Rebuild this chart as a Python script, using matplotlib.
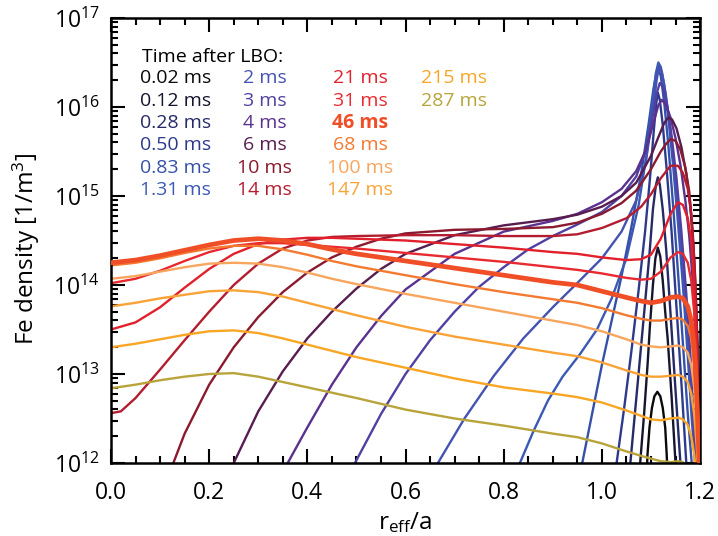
import numpy as np
import matplotlib.pyplot as plt
from matplotlib.ticker import MultipleLocator, LogLocator, NullFormatter

plt.rcParams['font.family'] = ['Open Sans', 'DejaVu Sans']
plt.rcParams['mathtext.fontset'] = 'custom'
plt.rcParams['mathtext.rm'] = 'Open Sans'
plt.rcParams['mathtext.it'] = 'Open Sans:italic'
plt.rcParams['mathtext.bf'] = 'Open Sans:bold'

# Fe density profiles, log10(n [1/m^3]) against r_eff/a, after the laser blow-off

# early profiles: narrow edge peak spreading inwards
r_0p02 = [1.090, 1.093, 1.097, 1.102, 1.107, 1.113, 1.119, 1.124, 1.129, 1.132, 1.135]
n_0p02 = [11.7, 12.1, 12.4, 12.62, 12.75, 12.80, 12.75, 12.62, 12.4, 12.1, 11.7]

r_0p12 = [1.070, 1.078, 1.086, 1.093, 1.098, 1.104, 1.109, 1.114, 1.119, 1.124, 1.129, 1.134, 1.142, 1.150, 1.158]
n_0p12 = [11.5, 12.0, 12.55, 13.1, 13.55, 14.0, 14.3, 14.42, 14.32, 14.05, 13.7, 13.4, 12.75, 12.0, 11.5]

r_0p28 = [1.048, 1.058, 1.068, 1.078, 1.088, 1.097, 1.104, 1.110, 1.114, 1.118, 1.124, 1.131, 1.139, 1.149, 1.160, 1.170]
n_0p28 = [11.4, 12.0, 12.6, 13.2, 13.8, 14.35, 14.85, 15.12, 15.21, 15.13, 14.85, 14.4, 13.75, 12.9, 12.0, 11.4]

r_0p50 = [1.015, 1.030, 1.045, 1.060, 1.075, 1.088, 1.098, 1.106, 1.111, 1.114, 1.118, 1.124, 1.132, 1.142, 1.152, 1.162, 1.172, 1.180]
n_0p50 = [11.4, 12.0, 12.6, 13.25, 13.95, 14.6, 15.2, 15.75, 16.05, 16.16, 16.08, 15.8, 15.3, 14.6, 13.75, 12.9, 12.0, 11.4]

r_0p83 = [0.940, 0.960, 0.980, 1.000, 1.020, 1.040, 1.060, 1.080, 1.095, 1.105, 1.111, 1.115, 1.120, 1.127, 1.135, 1.145, 1.155, 1.165, 1.175, 1.183, 1.190]
n_0p83 = [11.5, 12.0, 12.55, 13.1, 13.6, 14.1, 14.65, 15.25, 15.8, 16.2, 16.38, 16.42, 16.35, 16.05, 15.6, 14.9, 14.15, 13.35, 12.55, 12.0, 11.5]

r_1p31 = [0.810, 0.833, 0.860, 0.890, 0.920, 0.955, 0.990, 1.020, 1.050, 1.075, 1.092, 1.103, 1.110, 1.115, 1.120, 1.127, 1.135, 1.145, 1.155, 1.165, 1.175, 1.183, 1.190, 1.196]
n_1p31 = [11.7, 12.0, 12.35, 12.7, 12.97, 13.22, 13.5, 13.85, 14.3, 14.9, 15.5, 16.05, 16.38, 16.5, 16.45, 16.25, 15.9, 15.35, 14.7, 14.0, 13.2, 12.5, 12.0, 11.5]

r_2 = [0.640, 0.666, 0.720, 0.780, 0.840, 0.900, 0.955, 1.000, 1.040, 1.070, 1.090, 1.103, 1.111, 1.116, 1.122, 1.130, 1.140, 1.150, 1.160, 1.170, 1.178, 1.185, 1.190, 1.195]
n_2 = [11.7, 12.0, 12.5, 12.98, 13.4, 13.75, 14.05, 14.3, 14.6, 14.95, 15.4, 15.9, 16.28, 16.45, 16.4, 16.15, 15.72, 15.18, 14.55, 13.85, 13.2, 12.55, 12.0, 11.4]

r_3 = [0.470, 0.497, 0.550, 0.600, 0.650, 0.700, 0.750, 0.800, 0.850, 0.900, 0.950, 1.000, 1.040, 1.070, 1.090, 1.103, 1.112, 1.118, 1.125, 1.133, 1.142, 1.152, 1.162, 1.172, 1.180, 1.186, 1.191, 1.196]
n_3 = [11.7, 12.0, 12.55, 13.0, 13.38, 13.7, 13.98, 14.2, 14.4, 14.55, 14.68, 14.82, 15.0, 15.22, 15.52, 15.88, 16.16, 16.27, 16.22, 16.02, 15.68, 15.2, 14.6, 13.9, 13.25, 12.6, 12.0, 11.3]

r_4 = [0.330, 0.360, 0.400, 0.450, 0.500, 0.550, 0.600, 0.700, 0.800, 0.900, 0.950, 1.000, 1.040, 1.070, 1.090, 1.105, 1.115, 1.122, 1.130, 1.140, 1.150, 1.160, 1.170, 1.178, 1.185, 1.190, 1.195, 1.200]
n_4 = [11.7, 12.0, 12.4, 12.88, 13.3, 13.65, 13.95, 14.35, 14.6, 14.72, 14.8, 14.93, 15.08, 15.28, 15.52, 15.82, 16.02, 16.08, 16.03, 15.88, 15.65, 15.35, 14.95, 14.55, 14.05, 13.6, 12.9, 12.0]

r_6 = [0.220, 0.250, 0.300, 0.350, 0.400, 0.450, 0.500, 0.550, 0.600, 0.700, 0.800, 0.900, 0.950, 1.000, 1.040, 1.070, 1.100, 1.115, 1.127, 1.135, 1.143, 1.152, 1.162, 1.172, 1.180, 1.186, 1.191, 1.196, 1.200]
n_6 = [11.6, 12.0, 12.58, 13.03, 13.4, 13.7, 13.96, 14.18, 14.35, 14.56, 14.67, 14.74, 14.79, 14.88, 15.0, 15.15, 15.45, 15.66, 15.82, 15.88, 15.86, 15.76, 15.55, 15.25, 14.9, 14.45, 13.9, 13.1, 12.2]

r_10 = [0.105, 0.127, 0.150, 0.200, 0.250, 0.300, 0.350, 0.400, 0.450, 0.500, 0.550, 0.600, 0.700, 0.800, 0.900, 0.950, 1.000, 1.040, 1.070, 1.100, 1.120, 1.130, 1.140, 1.150, 1.160, 1.170, 1.178, 1.185, 1.190, 1.195, 1.200]
n_10 = [11.6, 12.0, 12.33, 12.88, 13.3, 13.64, 13.92, 14.14, 14.31, 14.43, 14.52, 14.58, 14.62, 14.63, 14.65, 14.70, 14.80, 14.92, 15.06, 15.30, 15.50, 15.58, 15.64, 15.62, 15.52, 15.32, 15.05, 14.6, 14.1, 13.3, 12.3]

# 14 ms starts flat on axis before climbing
r_14 = [0.0, 0.02, 0.05, 0.1, 0.15, 0.2, 0.25, 0.3, 0.35, 0.4, 0.45, 0.5, 0.6, 0.7, 0.8, 0.9, 0.95,
        1.0, 1.05, 1.08, 1.1, 1.12, 1.14, 1.155, 1.165, 1.175, 1.182, 1.188, 1.193, 1.197, 1.2]
n_14 = [12.56, 12.58, 12.73, 13.05, 13.38, 13.70, 14.0, 14.24, 14.41, 14.5, 14.54, 14.55, 14.56, 14.56, 14.55, 14.55, 14.57,
        14.64, 14.75, 14.88, 15.02, 15.2, 15.34, 15.34, 15.26, 15.08, 14.8, 14.3, 13.6, 12.8, 12.0]

# later profiles share one radial grid
r_late = [0.0, 0.05, 0.1, 0.15, 0.2, 0.25, 0.3, 0.35, 0.4, 0.45, 0.5, 0.6, 0.7, 0.8, 0.9, 0.95,
          1.0, 1.05, 1.08, 1.1, 1.12, 1.14, 1.155, 1.165, 1.175, 1.182, 1.188, 1.193, 1.197, 1.2]
n_21 = [13.5, 13.58, 13.75, 13.97, 14.18, 14.35, 14.46, 14.51, 14.53, 14.53, 14.52, 14.5, 14.46, 14.42, 14.37, 14.35,
        14.31, 14.28, 14.29, 14.34, 14.52, 14.8, 14.93, 14.9, 14.75, 14.5, 14.0, 13.3, 12.5, 11.8]
n_31 = [14.02, 14.07, 14.16, 14.27, 14.37, 14.44, 14.47, 14.47, 14.45, 14.43, 14.41, 14.36, 14.31, 14.26, 14.2, 14.17,
        14.13, 14.08, 14.06, 14.07, 14.15, 14.31, 14.37, 14.35, 14.25, 14.05, 13.7, 13.1, 12.4, 11.8]
n_46 = [14.25, 14.28, 14.33, 14.39, 14.45, 14.5, 14.52, 14.5, 14.46, 14.4, 14.35, 14.27, 14.19, 14.11, 14.03, 14.0,
        13.93, 13.86, 13.82, 13.8, 13.82, 13.86, 13.87, 13.85, 13.76, 13.6, 13.3, 12.8, 12.2, 11.7]
n_68 = [14.22, 14.25, 14.3, 14.36, 14.41, 14.44, 14.44, 14.4, 14.34, 14.27, 14.21, 14.11, 14.01, 13.92, 13.84, 13.8,
        13.74, 13.66, 13.62, 13.6, 13.6, 13.62, 13.63, 13.61, 13.54, 13.4, 13.1, 12.65, 12.1, 11.6]
n_100 = [14.07, 14.1, 14.15, 14.2, 14.24, 14.25, 14.24, 14.2, 14.14, 14.07, 14.01, 13.9, 13.8, 13.7, 13.6, 13.55,
         13.48, 13.39, 13.33, 13.31, 13.3, 13.31, 13.32, 13.3, 13.24, 13.1, 12.85, 12.45, 12.0, 11.6]
n_147 = [13.76, 13.8, 13.85, 13.89, 13.93, 13.94, 13.92, 13.87, 13.8, 13.73, 13.66, 13.53, 13.42, 13.33, 13.24, 13.2,
         13.13, 13.04, 12.99, 12.97, 12.97, 12.98, 12.99, 12.97, 12.91, 12.78, 12.55, 12.2, 11.85, 11.5]
n_215 = [13.3, 13.34, 13.39, 13.44, 13.48, 13.49, 13.46, 13.4, 13.33, 13.26, 13.19, 13.07, 12.95, 12.85, 12.78, 12.74,
         12.68, 12.59, 12.53, 12.49, 12.48, 12.5, 12.51, 12.49, 12.43, 12.3, 12.1, 11.8, 11.5, 11.3]
n_287 = [12.84, 12.88, 12.93, 12.97, 13.0, 13.01, 12.97, 12.91, 12.85, 12.79, 12.73, 12.6, 12.5, 12.42, 12.33, 12.29,
         12.22, 12.13, 12.08, 12.05, 12.02, 12.01, 12.02, 12.01, 11.95, 11.85, 11.7, 11.5, 11.3, 11.2]

labels = ['0.02 ms', '0.12 ms', '0.28 ms', '0.50 ms', '0.83 ms', '1.31 ms',
          '2 ms', '3 ms', '4 ms', '6 ms', '10 ms', '14 ms',
          '21 ms', '31 ms', '46 ms', '68 ms', '100 ms', '147 ms',
          '215 ms', '287 ms']
colors = ['#0a0a0a', '#15152e', '#262a66', '#2d3a8c', '#3550a8', '#3b58b4',
          '#4452b2', '#5040a2', '#5a318e', '#581d50', '#8a1a2e', '#b41c30',
          '#e2202b', '#e82a30', '#f04e26', '#f37a30', '#f8a55e', '#f9a337',
          '#f8a624', '#b8a43a']
profiles = [(r_0p02, n_0p02), (r_0p12, n_0p12), (r_0p28, n_0p28), (r_0p50, n_0p50),
            (r_0p83, n_0p83), (r_1p31, n_1p31), (r_2, n_2), (r_3, n_3), (r_4, n_4),
            (r_6, n_6), (r_10, n_10), (r_14, n_14), (r_late, n_21), (r_late, n_31),
            (r_late, n_46), (r_late, n_68), (r_late, n_100), (r_late, n_147),
            (r_late, n_215), (r_late, n_287)]
highlight = '46 ms'

fig = plt.figure(figsize=(7.18, 5.36), dpi=100)
ax = fig.add_axes([0.1546, 0.1362, 0.8204, 0.8302])

for (r, logn), lab, col in zip(profiles, labels, colors):
    lw = 3.4 if lab == highlight else 1.7
    ax.plot(r, np.power(10.0, logn), color=col, lw=lw, solid_capstyle='round',
            solid_joinstyle='round', zorder=3 if lab == highlight else 2)

ax.set_yscale('log')
ax.set_xlim(0.0, 1.2)
ax.set_ylim(1e12, 1e17)
ax.set_xticks(np.arange(0.0, 1.21, 0.2))
ax.set_xticklabels(['%.1f' % v for v in np.arange(0.0, 1.21, 0.2)])
ax.xaxis.set_minor_locator(MultipleLocator(0.05))
ax.yaxis.set_minor_locator(LogLocator(base=10, subs=np.arange(2, 10), numticks=20))
ax.yaxis.set_minor_formatter(NullFormatter())
ax.tick_params(which='both', direction='in', top=True, right=True, width=1.5, labelsize=16.5)
ax.tick_params(which='major', length=10)
ax.tick_params(which='minor', length=5)
ax.tick_params(axis='x', pad=13)
ax.tick_params(axis='y', pad=8)
for s in ax.spines.values():
    s.set_linewidth(1.8)

ax.set_xlabel(r'r$_{\rm eff}$/a', fontsize=17.5)
ax.set_ylabel(r'Fe density [1/m$^3$]', fontsize=17.5)
ax.xaxis.set_label_coords(0.5, -0.105)
ax.yaxis.set_label_coords(-0.117, 0.48)

# legend written as coloured text columns
ax.text(0.053, 0.912, 'Time after LBO:', transform=ax.transAxes, fontsize=14,
        ha='left', va='center', color='black')
col_x = [0.110, 0.261, 0.423, 0.582]
row_y0, row_dy = 0.865, 0.0505
for i, (lab, col) in enumerate(zip(labels, colors)):
    c, row = divmod(i, 6)
    ax.text(col_x[c], row_y0 - row * row_dy, lab, transform=ax.transAxes,
            fontsize=14, ha='center', va='center', color=col,
            fontweight='bold' if lab == highlight else 'normal')

fig.savefig('out.png', dpi=100)
